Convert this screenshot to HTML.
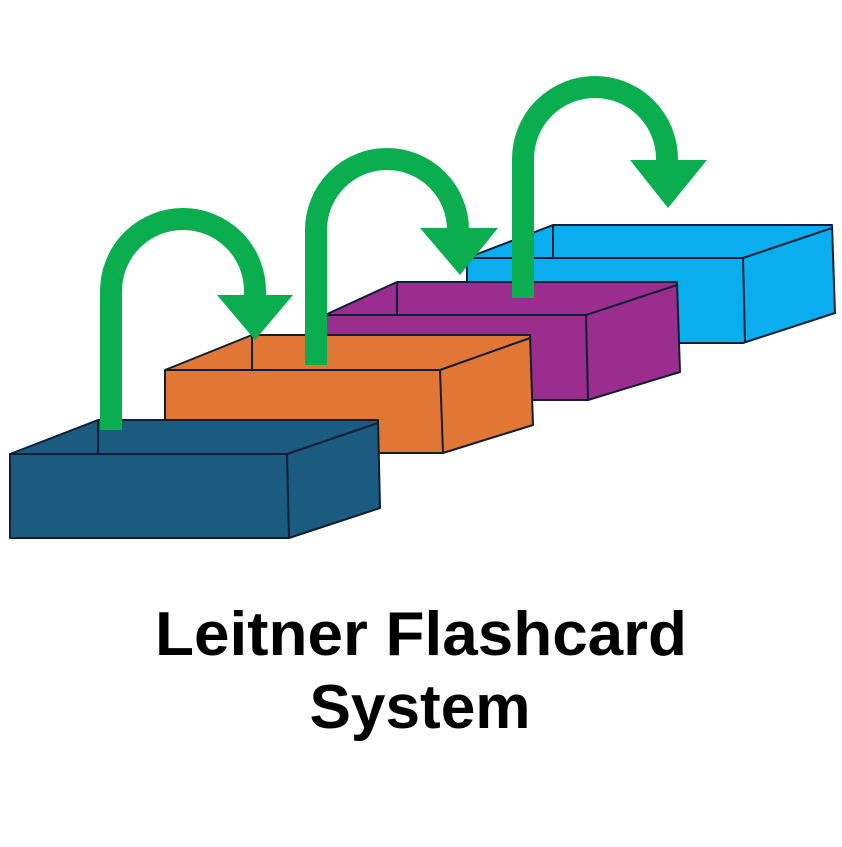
<!DOCTYPE html>
<html><head><meta charset="utf-8"><style>html,body{margin:0;padding:0;background:#fff}</style></head>
<body>
<svg width="842" height="842" viewBox="0 0 842 842" xmlns="http://www.w3.org/2000/svg">
<g stroke="#0f1f33" stroke-width="2" stroke-linejoin="round">
  <!-- cyan box -->
  <g fill="#0aaeee">
    <polygon points="467,258 553,225 832,225 835,313 743,343 467,343"/>
    <line x1="553" y1="225" x2="553" y2="258"/>
    <line x1="467" y1="258" x2="743" y2="258"/>
    <polyline points="743,258 832,228" fill="none"/>
    <line x1="743" y1="258" x2="745" y2="343"/>
  </g>
  <!-- purple box -->
  <g fill="#9b2d8e">
    <polygon points="325,315 397,282 677,282 680,372 588,400 325,400"/>
    <line x1="397" y1="282" x2="397" y2="315"/>
    <line x1="325" y1="315" x2="586" y2="315"/>
    <polyline points="586,315 677,285" fill="none"/>
    <line x1="586" y1="315" x2="588" y2="400"/>
  </g>
  <!-- orange box -->
  <g fill="#e27634">
    <polygon points="165,370 252,335 530,335 533,425 443,453 165,453"/>
    <line x1="252" y1="335" x2="252" y2="370"/>
    <line x1="165" y1="370" x2="440" y2="370"/>
    <polyline points="440,370 530,338" fill="none"/>
    <line x1="440" y1="370" x2="443" y2="453"/>
  </g>
  <!-- blue box -->
  <g fill="#1b5b80">
    <polygon points="10,454 98,420 378,420 380,508 289,538 10,538"/>
    <line x1="98" y1="420" x2="98" y2="454"/>
    <line x1="10" y1="454" x2="287" y2="454"/>
    <polyline points="287,454 378,423" fill="none"/>
    <line x1="287" y1="454" x2="289" y2="538"/>
  </g>
</g>
<g fill="none" stroke="#0bae4f" stroke-width="22">
  <path d="M111,430 V291 A72,72 0 0 1 255,291 V298"/>
  <path d="M316,365 V230 A71,71 0 0 1 458,230 V232"/>
  <path d="M523,298 V159 A72,72 0 0 1 667,159 V162"/>
</g>
<g fill="#0bae4f">
  <polygon points="217,295 293,295 255,340"/>
  <polygon points="420,228 498,228 460,275"/>
  <polygon points="630,160 707,160 668,208"/>
</g>
<g font-family="Liberation Sans, sans-serif" font-weight="bold" font-size="62" fill="#000" text-anchor="middle">
  <text x="421" y="655" textLength="532" lengthAdjust="spacingAndGlyphs">Leitner Flashcard</text>
  <text x="420" y="728" textLength="221" lengthAdjust="spacingAndGlyphs">System</text>
</g>
</svg>
</body></html>
